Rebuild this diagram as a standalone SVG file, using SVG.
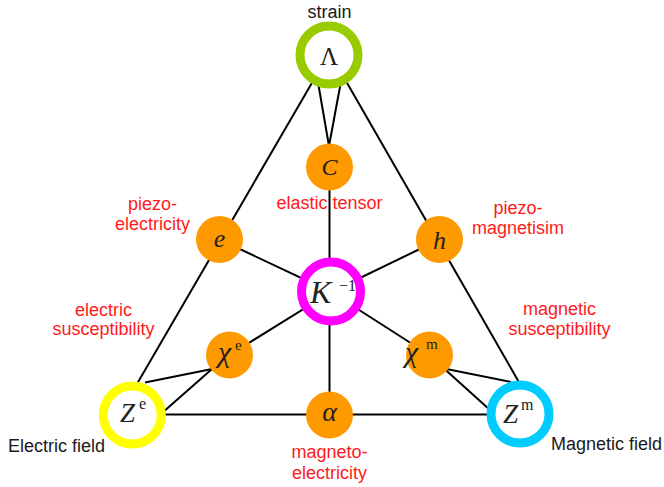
<svg xmlns="http://www.w3.org/2000/svg" width="664" height="487" viewBox="0 0 664 487">
<style>
.lbl{font-family:"Liberation Sans",Arial,sans-serif;font-size:18px;fill:#ff1a1a;text-anchor:middle}
.cap{font-family:"Liberation Sans",Arial,sans-serif;font-size:18px;fill:#1a1a1a}
.m{font-family:"Liberation Serif","Times New Roman",serif;font-style:italic;fill:#222}
.up{font-family:"Liberation Serif","Times New Roman",serif;fill:#222}
.orb{fill:#ff9900}
.ring{fill:#fff;stroke-width:9}
.edge{stroke:#000;stroke-width:2;fill:none}
</style>
<rect width="664" height="487" fill="#fff"/>
<g id="connectors" class="edge">
<line x1="313.2" y1="80.7" x2="137.8" y2="382.6"/>
<line x1="345.8" y1="80.7" x2="518.8" y2="381.9"/>
<line x1="318.3" y1="84" x2="329" y2="146"/>
<line x1="340.5" y1="84" x2="329" y2="146"/>
<line x1="329.5" y1="180" x2="329.5" y2="270"/>
<line x1="219.5" y1="239.5" x2="331" y2="292"/>
<line x1="439.5" y1="239.5" x2="331" y2="292"/>
<line x1="229.5" y1="355" x2="331" y2="292"/>
<line x1="429.5" y1="355" x2="331" y2="292"/>
<line x1="329.5" y1="310" x2="329.5" y2="400"/>
<line x1="150" y1="414.5" x2="505" y2="414.5"/>
<line x1="212" y1="369" x2="145" y2="382.5"/>
<line x1="212" y1="369" x2="162" y2="413"/>
<line x1="444" y1="368.5" x2="511" y2="382"/>
<line x1="444" y1="368.5" x2="490" y2="410"/>
</g>
<g id="n-lambda"><circle class="ring" cx="329" cy="55" r="29" stroke="#99cc00"/><text class="up" x="329" y="65" font-size="25" text-anchor="middle">Λ</text></g>
<g id="n-C"><circle class="orb" cx="329.5" cy="167" r="23.5"/><text class="m" x="329.5" y="175" font-size="24" text-anchor="middle">C</text></g>
<g id="n-K"><circle class="ring" cx="331" cy="291.5" r="29.5" stroke="#ff00ff"/><text class="m" x="310" y="303" font-size="32">K</text><text class="up" x="339" y="291" font-size="16">−1</text></g>
<g id="n-e"><circle class="orb" cx="219.5" cy="239.5" r="23.5"/><text class="m" x="219.5" y="247" font-size="26" text-anchor="middle">e</text></g>
<g id="n-h"><circle class="orb" cx="439.5" cy="239.5" r="23.5"/><text class="m" x="439.5" y="249" font-size="26" text-anchor="middle">h</text></g>
<g id="n-chie"><circle class="orb" cx="229.5" cy="355" r="23.5"/><text class="m" x="218" y="362" font-size="30">χ</text><text class="up" x="235" y="350" font-size="15">e</text></g>
<g id="n-chim"><circle class="orb" cx="429.5" cy="355" r="23.5"/><text class="m" x="405" y="362" font-size="30">χ</text><text class="up" x="426" y="349" font-size="15">m</text></g>
<g id="n-alpha"><circle class="orb" cx="329.5" cy="415" r="23.5"/><text class="m" x="329.5" y="421" font-size="28" text-anchor="middle">α</text></g>
<g id="n-Ze"><circle class="ring" cx="132.3" cy="415" r="29" stroke="#ffff00"/><text class="m" x="120" y="422" font-size="27">Z</text><text class="up" x="139" y="409" font-size="16">e</text></g>
<g id="n-Zm"><circle class="ring" cx="520" cy="414" r="29" stroke="#00ccff"/><text class="m" x="503" y="423" font-size="27">Z</text><text class="up" x="521" y="410" font-size="16">m</text></g>
<g id="labels">
<text class="cap" x="329.5" y="18" text-anchor="middle">strain</text>
<text class="lbl" x="329.5" y="209">elastic tensor</text>
<text class="lbl" x="152.5" y="210">piezo-</text>
<text class="lbl" x="152.5" y="230">electricity</text>
<text class="lbl" x="518" y="214">piezo-</text>
<text class="lbl" x="518" y="234">magnetisim</text>
<text class="lbl" x="103.5" y="316">electric</text>
<text class="lbl" x="103.5" y="335">susceptibility</text>
<text class="lbl" x="559.5" y="315">magnetic</text>
<text class="lbl" x="559.5" y="335">susceptibility</text>
<text class="lbl" x="329.5" y="458">magneto-</text>
<text class="lbl" x="329.5" y="479">electricity</text>
<text class="cap" x="8" y="452">Electric field</text>
<text class="cap" x="551" y="450">Magnetic field</text>
</g>
</svg>
